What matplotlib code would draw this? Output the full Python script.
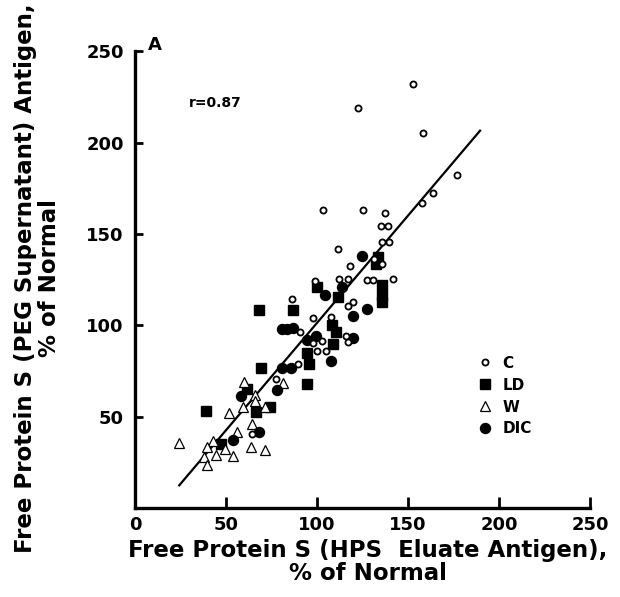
import matplotlib
matplotlib.use("Agg")
import matplotlib.pyplot as plt

plt.rcParams['font.family'] = ['DejaVu Sans']
plt.rcParams['font.weight'] = 'bold'

# ---- data ----
C_x = [152.6, 122.5, 158.4, 176.7, 163.6, 157.5, 103.5, 125.5, 137.4, 135.2, 138.8,
       135.6, 139.7, 111.5, 118.1, 135.9, 131.3, 112.3, 117.0, 127.3, 130.9, 141.9,
       99.1, 86.4, 119.6, 117.2, 97.6, 107.5, 90.7, 102.6, 98.0, 115.8, 117.2,
       100.2, 104.8, 89.4, 77.5, 64.1]
C_y = [232.2, 218.9, 205.5, 182.2, 172.3, 166.9, 163.2, 163.2, 161.4, 154.4, 154.4,
       145.8, 145.8, 142.0, 132.5, 133.6, 136.2, 125.4, 125.4, 125.1, 125.1, 125.4,
       124.5, 114.3, 113.0, 110.6, 103.9, 104.8, 96.6, 91.6, 90.5, 94.2, 90.7,
       86.2, 86.2, 78.9, 70.6, 40.5]

LD_x = [68.1, 87.0, 39.2, 69.1, 94.3, 95.6, 94.7, 109.0, 110.3, 108.1, 99.8,
        111.7, 133.7, 132.2, 135.9, 135.9, 135.9, 66.5, 74.2, 61.7, 47.1]
LD_y = [108.4, 108.4, 53.1, 76.5, 67.9, 78.9, 84.7, 89.6, 96.6, 100.2, 121.2,
        115.7, 137.6, 133.6, 122.1, 116.6, 113.0, 52.7, 55.5, 65.0, 35.0]

W_x = [24.3, 60.1, 81.5, 65.9, 65.8, 59.2, 71.4, 51.8, 64.1, 55.9, 42.7, 39.4,
       49.5, 63.7, 71.4, 44.3, 54.0, 37.9, 39.4]
W_y = [35.8, 69.2, 68.3, 61.9, 58.8, 55.5, 55.1, 52.2, 46.0, 41.8, 36.9, 33.6,
       32.1, 33.6, 31.8, 29.0, 28.5, 28.1, 23.5]

DIC_x = [124.5, 104.4, 113.9, 127.3, 119.6, 120.0, 107.7, 99.5, 94.3, 80.6, 83.3,
         87.0, 80.6, 85.7, 77.9, 58.2, 68.1, 54.0]
DIC_y = [138.2, 116.6, 120.9, 108.8, 105.1, 93.3, 80.7, 94.2, 92.0, 97.9, 97.9,
         98.4, 76.5, 76.5, 64.6, 61.3, 41.8, 37.2]

fit_x = [24.3, 189.6]
fit_y = [12.4, 206.6]

ticks = [0, 50, 100, 150, 200, 250]
series_labels = ["C", "LD", "W", "DIC"]

# ---- figure ----
fig = plt.figure(figsize=(6.2, 5.97), dpi=100)
ax = fig.add_axes([135/620, 1-508/597, 455/620, 456.6/597])
ax.set_xlim(0, 250)
ax.set_ylim(0, 250)

ax.plot(fit_x, fit_y, color='black', lw=1.6, zorder=1)

hC, = ax.plot(C_x, C_y, 'o', ms=4.4, mfc='white', mec='black', mew=1.3, ls='none', zorder=3)
hLD, = ax.plot(LD_x, LD_y, 's', ms=6.8, mfc='black', mec='black', ls='none', zorder=2)
hW, = ax.plot(W_x, W_y, '^', ms=7, mfc='white', mec='black', mew=0.9, ls='none', zorder=2)
hD, = ax.plot(DIC_x, DIC_y, 'o', ms=7.2, mfc='black', mec='black', ls='none', zorder=2)

for s in ['top', 'right']:
    ax.spines[s].set_visible(False)
for s in ['left', 'bottom']:
    ax.spines[s].set_linewidth(2.4)

ax.set_xticks(ticks)
ax.set_yticks(ticks[1:])
ax.set_xticklabels([str(t) for t in ticks], fontsize=13, fontweight='bold')
ax.set_yticklabels([str(t) for t in ticks[1:]], fontsize=13, fontweight='bold')
ax.tick_params(axis='x', direction='in', length=8, width=2, pad=6)
ax.tick_params(axis='y', direction='in', length=6, width=2, pad=8)

ax.set_xlabel("Free Protein S (HPS  Eluate Antigen),\n% of Normal",
              fontsize=16.5, fontweight='bold', linespacing=1.0)
ax.xaxis.set_label_coords(0.512, -0.068)
ax.set_ylabel("Free Protein S (PEG Supernatant) Antigen,\n% of Normal",
              fontsize=16.5, fontweight='bold', linespacing=1.05)
ax.yaxis.set_label_coords(-0.163, 0.504)

fig.text(148/620, 1-45/597, "A", fontsize=13, fontweight='bold', ha='left', va='center')
fig.text(189/620, 1-103/597, "r=0.87", fontsize=10, fontweight='bold', ha='left', va='center')

ax.legend([hC, hLD, hW, hD], series_labels, loc='upper left',
          bbox_to_anchor=(0.74, 0.35), frameon=False,
          handlelength=0.8, handletextpad=0.7, labelspacing=0.45,
          borderpad=0, prop={'weight': 'bold', 'size': 11})

fig.savefig("out.png", dpi=100)
